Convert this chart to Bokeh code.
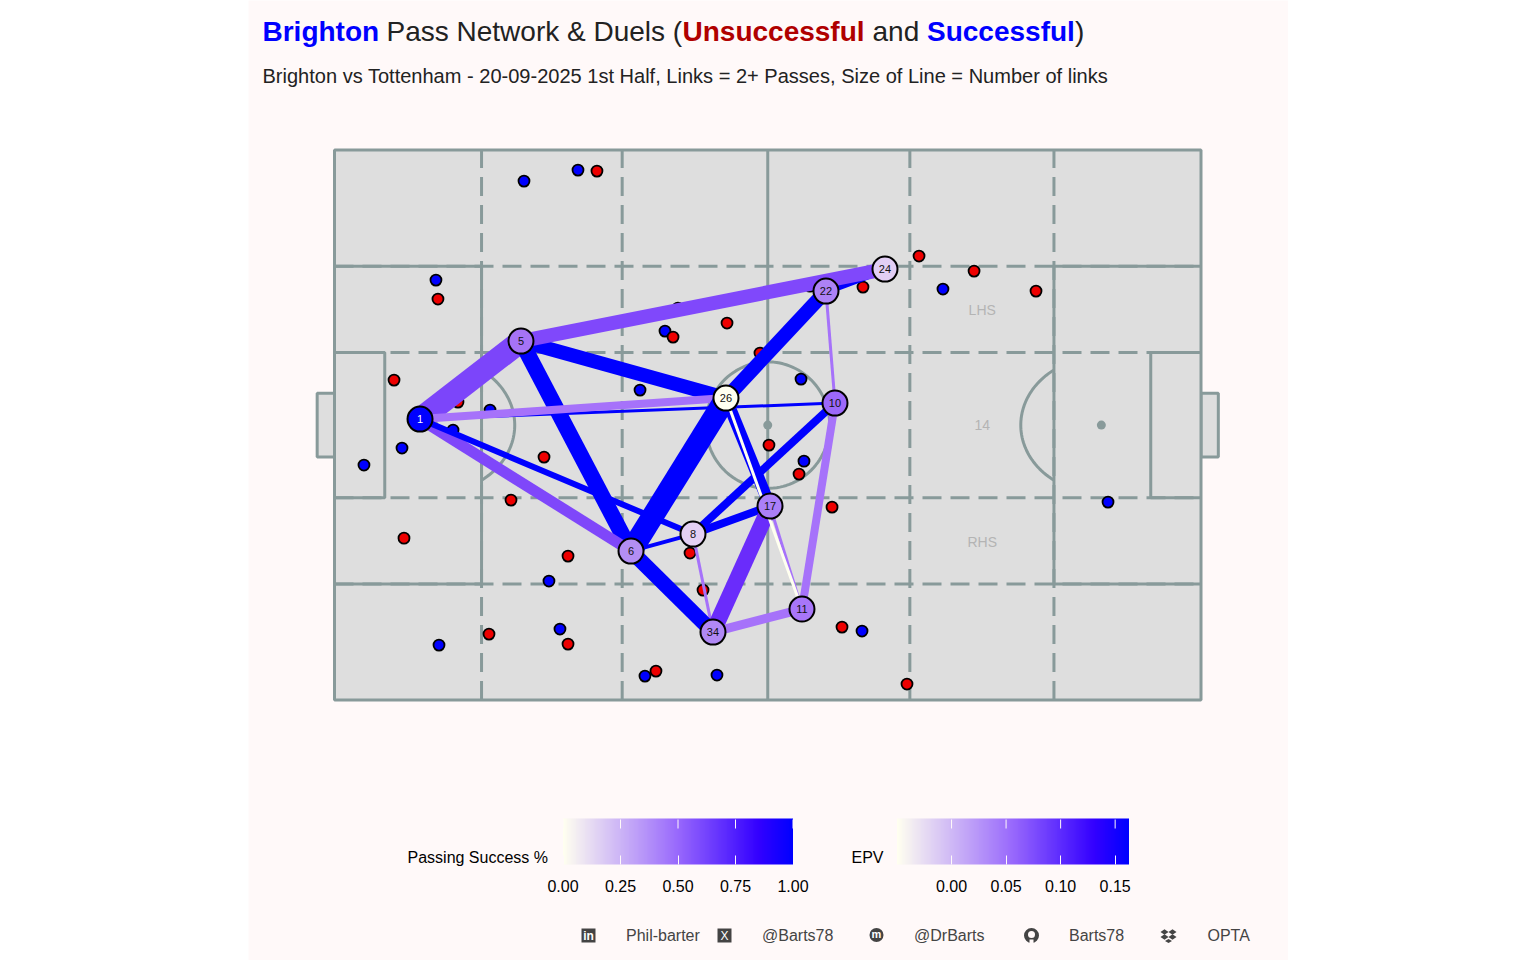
from bokeh.plotting import figure
from bokeh.embed import file_html
from bokeh.resources import INLINE
from bokeh.models import Label, ColorBar, LinearColorMapper, FixedTicker, NumeralTickFormatter, Range1d
import numpy as np

# ---- data (pitch coordinates 0-100) ----
players = ["1", "5", "26", "10", "22", "24", "17", "8", "6", "34", "11"]
player_x = [9.87, 21.52, 45.18, 57.76, 56.72, 63.53, 50.26, 41.37, 34.22, 43.68, 53.95]
player_y = [51.09, 65.27, 54.91, 54.0, 74.36, 78.36, 35.27, 30.18, 27.09, 12.36, 16.55]
player_fill = ["#0000ff", "#a673f6", "#fffff0", "#9c68fa", "#ad82f6", "#e2cef5", "#ab7ff8", "#e4d0f4", "#b38ef4", "#b088f5", "#a876f9"]

link_from = ["22", "1", "5", "5", "1", "1", "1", "1", "26", "26", "26", "10", "10", "10", "17", "8", "8", "6", "17", "34", "17", "5", "26"]
link_to   = ["24", "5", "26", "6", "10", "26", "6", "8", "6", "22", "17", "8", "11", "22", "8", "6", "34", "34", "34", "11", "11", "24", "11"]
link_count = [8, 23, 14, 16, 3, 8, 11, 6, 22, 14, 12, 8, 8, 3, 8, 4, 3, 15, 16, 9, 3, 14, 3]
link_fill = ["#0000ff", "#7c45fa", "#0000ff", "#0000ff", "#0000ff", "#a672fa", "#7f47fa", "#0000ff", "#0000ff", "#0000ff", "#0000ff",
             "#0000ff", "#a672fa", "#a672fa", "#0000ff", "#0000ff", "#a672fa", "#0000ff", "#6a2cfb", "#a672fa", "#a672fa", "#8048fb", "#fffff0"]

won_x = [21.87, 28.10, 11.71, 38.14, 35.26, 17.95, 13.68, 7.79, 3.40, 53.84, 54.18, 89.27, 24.75, 26.02, 12.06, 35.83, 44.14, 60.88, 70.22, 54.88]
won_y = [94.36, 96.36, 76.36, 67.09, 56.36, 52.73, 49.09, 45.82, 42.73, 58.36, 43.45, 36.0, 21.64, 12.91, 10.0, 4.36, 4.55, 12.55, 74.73, 75.27]
lost_x = [30.29, 11.94, 6.87, 14.25, 39.07, 45.30, 49.10, 50.14, 53.61, 24.18, 20.37, 8.02, 26.95, 41.03, 42.53, 17.83, 26.95, 37.10, 58.57, 66.07, 57.42, 60.99, 67.46, 73.81, 80.96, 39.64]
lost_y = [96.18, 72.91, 58.18, 54.18, 66.0, 68.55, 63.09, 46.36, 41.09, 44.18, 36.36, 29.45, 26.18, 26.73, 20.0, 12.0, 10.18, 5.27, 13.27, 2.91, 35.09, 75.09, 80.73, 78.0, 74.36, 71.27]

pass_ticks = [0.0, 0.25, 0.5, 0.75, 1.0]
epv_ticks = [0.0, 0.05, 0.10, 0.15]
title_parts = [("Brighton", "bold", "#0000ff", 262), ("Pass Network & Duels (", "normal", "#222222", 386),
               ("Unsuccessful", "bold", "#b00000", 682), ("and", "normal", "#222222", 872),
               ("Successful", "bold", "#0000ff", 926.5), (")", "normal", "#222222", 1074.5)]
subtitle = "Brighton vs Tottenham - 20-09-2025 1st Half, Links = 2+ Passes, Size of Line = Number of links"
footer = [("Phil-barter", 625.5), ("@Barts78", 761.5), ("@DrBarts", 913.5), ("Barts78", 1068.5), ("OPTA", 1207)]

# ---- layout ----
PANEL_L = 248; W = 1040; H = 960
X0 = 334.0; SX = 8.665; Y0 = 699.6; SY = 5.5
def X(px): return (px - X0) / SX
def Y(py): return (Y0 - py) / SY

BG = "#fff9f9"; GRASS = "#dedede"; LINE = "#889a9a"
FONT = "Liberation Sans"

p = figure(width=W, height=H, output_backend="svg", toolbar_location=None,
           x_range=Range1d(X(PANEL_L), X(PANEL_L + W)), y_range=Range1d(Y(960), Y(0)),
           min_border=0, background_fill_color=BG, border_fill_color=BG, outline_line_color=None)
p.axis.visible = False
p.grid.visible = False
p.styles = {"margin-left": "248px", "margin-top": "0px"}

# pitch
p.quad(left=[-2, 100], right=[0, 102], bottom=[44.2, 44.2], top=[55.8, 55.8], fill_color=GRASS, line_color=LINE, line_width=3)
p.quad(left=[0], right=[100], bottom=[0], top=[100], fill_color=GRASS, line_color=None)
solid = dict(line_color=LINE, line_width=3)
dash = dict(line_color=LINE, line_width=3, line_dash="19 9")
for xx in (16.97, 33.2, 66.4, 83.03):
    p.line([xx, xx], [0, 100], **dash)
for yy in (21.1, 36.8, 63.2, 78.9):
    p.line([0, 100], [yy, yy], **dash)
p.line([50, 50], [0, 100], **solid)
for a, b in ((0, 16.97), (83.03, 100)):
    p.line([a, b], [78.9, 78.9], **solid)
    p.line([a, b], [21.1, 21.1], **solid)
for xx in (16.97, 83.03):
    p.line([xx, xx], [21.1, 78.9], **solid)
for a, b, c in ((0, 5.8, 5.8), (100, 94.2, 94.2)):
    p.line([a, b, c, a], [63.2, 63.2, 36.8, 36.8], **solid)
t = np.linspace(0, 2 * np.pi, 120)
p.line(50 + 7.15 * np.cos(t), 50 + 11.5 * np.sin(t), **solid)
t = np.linspace(-np.pi / 2, np.pi / 2, 80)
ax = 11.5 + 9.3 * np.cos(t); ay = 50 + 12.4 * np.sin(t); keep = ax >= 16.97
p.line(ax[keep], ay[keep], **solid)
p.line(100 - ax[keep], ay[keep], **solid)
p.quad(left=[0], right=[100], bottom=[0], top=[100], fill_color=None, line_color=LINE, line_width=3)
p.scatter([11.5, 50, 88.5], [50, 50, 50], size=9, marker="circle", fill_color=LINE, line_color=None)

for txt, yy in (("LHS", 71.0), ("14", 50.1), ("RHS", 28.8)):
    p.add_layout(Label(x=74.75, y=yy, text=txt, text_color="#b4b4b4", text_font=FONT, text_font_size="14px",
                       text_align="center", text_baseline="middle"))

# duels
p.scatter(won_x, won_y, size=11, marker="circle", fill_color="#0000ff", line_color="black", line_width=1.8)
p.scatter(lost_x, lost_y, size=11, marker="circle", fill_color="#ee0000", line_color="black", line_width=1.8)

# links
pos = {n: (a, b) for n, a, b in zip(players, player_x, player_y)}
for a, b, w, c in zip(link_from, link_to, link_count, link_fill):
    p.line([pos[a][0], pos[b][0]], [pos[a][1], pos[b][1]], line_width=w, line_color=c, line_cap="butt")

# nodes
p.scatter(player_x, player_y, size=25, marker="circle", fill_color=player_fill, line_color="black", line_width=2)
for n, a, b in zip(players, player_x, player_y):
    p.add_layout(Label(x=a, y=b + 0.1, text=n, text_color="white" if n == "1" else "#111111", text_font=FONT,
                       text_font_size="11px", text_align="center", text_baseline="middle"))

# titles
for txt, wt, col, px in title_parts:
    p.add_layout(Label(x=X(px), y=Y(30.5), text=txt, text_font_style=wt, text_color=col, text_font=FONT,
                       text_font_size="28px", text_baseline="middle"))
p.add_layout(Label(x=X(262), y=Y(75.5), text=subtitle, text_color="#222222", text_font=FONT,
                   text_font_size="20.05px", text_baseline="middle"))

# colour bars
stops = [(0.0, (255, 255, 240)), (0.5, (152, 104, 252)), (0.85, (51, 0, 255)), (1.0, (0, 0, 255))]
s_x = [s[0] for s in stops]
palette = ["#%02x%02x%02x" % tuple(int(round(np.interp(i / 255, s_x, [s[1][k] for s in stops]))) for k in range(3)) for i in range(256)]

def bar(low, high, ticks, left, right, fmt="0.00"):
    m = LinearColorMapper(palette=palette, low=low, high=high)
    cb = ColorBar(color_mapper=m, orientation="horizontal", width=right - left, height=46,
                  location=(left - PANEL_L - 0.5, 66), padding=0, margin=0,
                  ticker=FixedTicker(ticks=ticks), formatter=NumeralTickFormatter(format=fmt),
                  major_tick_line_color="#fff9f9", major_tick_in=9, major_tick_out=0, major_tick_line_width=1,
                  minor_tick_line_color=None, bar_line_color=None, border_line_color=None, background_fill_color=None,
                  major_label_text_font=FONT, major_label_text_font_size="16px", major_label_text_color="black",
                  label_standoff=15)
    p.add_layout(cb, "center")
    xs = [left - 0.5 + (tk - low) / (high - low) * (right - left) for tk in ticks]
    p.segment(x0=[X(v) for v in xs], x1=[X(v) for v in xs], y0=Y(819), y1=Y(828), line_color="#fff9f9", line_width=1, level="overlay")

bar(0.0, 1.0, pass_ticks, 563, 793)
bar(-0.05, 0.1627, epv_ticks, 897, 1129)
p.add_layout(Label(x=X(407), y=Y(857), text="Passing Success %", text_color="black", text_font=FONT, text_font_size="16px", text_baseline="middle"))
p.add_layout(Label(x=X(851), y=Y(857), text="EPV", text_color="black", text_font=FONT, text_font_size="16px", text_baseline="middle"))

# footer
INK = "#444444"
for txt, px in footer:
    p.add_layout(Label(x=X(px), y=Y(935), text=txt, text_color=INK, text_font=FONT, text_font_size="16px", text_baseline="middle"))
# footer icons
p.scatter([X(588), X(724)], [Y(935), Y(935)], marker="square", size=14, fill_color=INK, line_color=None)
p.add_layout(Label(x=X(588), y=Y(935.5), text="in", text_color="white", text_font=FONT, text_font_style="bold", text_font_size="12px", text_align="center", text_baseline="middle"))
p.add_layout(Label(x=X(724), y=Y(935), text="X", text_color="white", text_font=FONT, text_font_size="12px", text_align="center", text_baseline="middle"))
p.scatter([X(876)], [Y(934.5)], marker="circle", size=14, fill_color=INK, line_color=None)
p.add_layout(Label(x=X(876), y=Y(933.5), text="m", text_color="white", text_font=FONT, text_font_style="bold", text_font_size="11px", text_align="center", text_baseline="middle"))
p.scatter([X(1031)], [Y(935)], marker="circle", size=15, fill_color=INK, line_color=None)
p.scatter([X(1031)], [Y(934)], marker="circle", size=7, fill_color=BG, line_color=None)
p.scatter([X(1031)], [Y(941)], marker="square", size=4, fill_color=BG, line_color=None)
for cx, cy, hw, hh in ((1164, 931.5, 4, 2.8), (1172, 931.5, 4, 2.8), (1164, 936.5, 4, 2.8), (1172, 936.5, 4, 2.8), (1168, 940.5, 3.5, 2)):
    p.patch([X(cx - hw), X(cx), X(cx + hw), X(cx)], [Y(cy), Y(cy - hh), Y(cy), Y(cy + hh)], fill_color=INK, line_color=None)

open("out.html", "w").write(file_html(p, INLINE))
